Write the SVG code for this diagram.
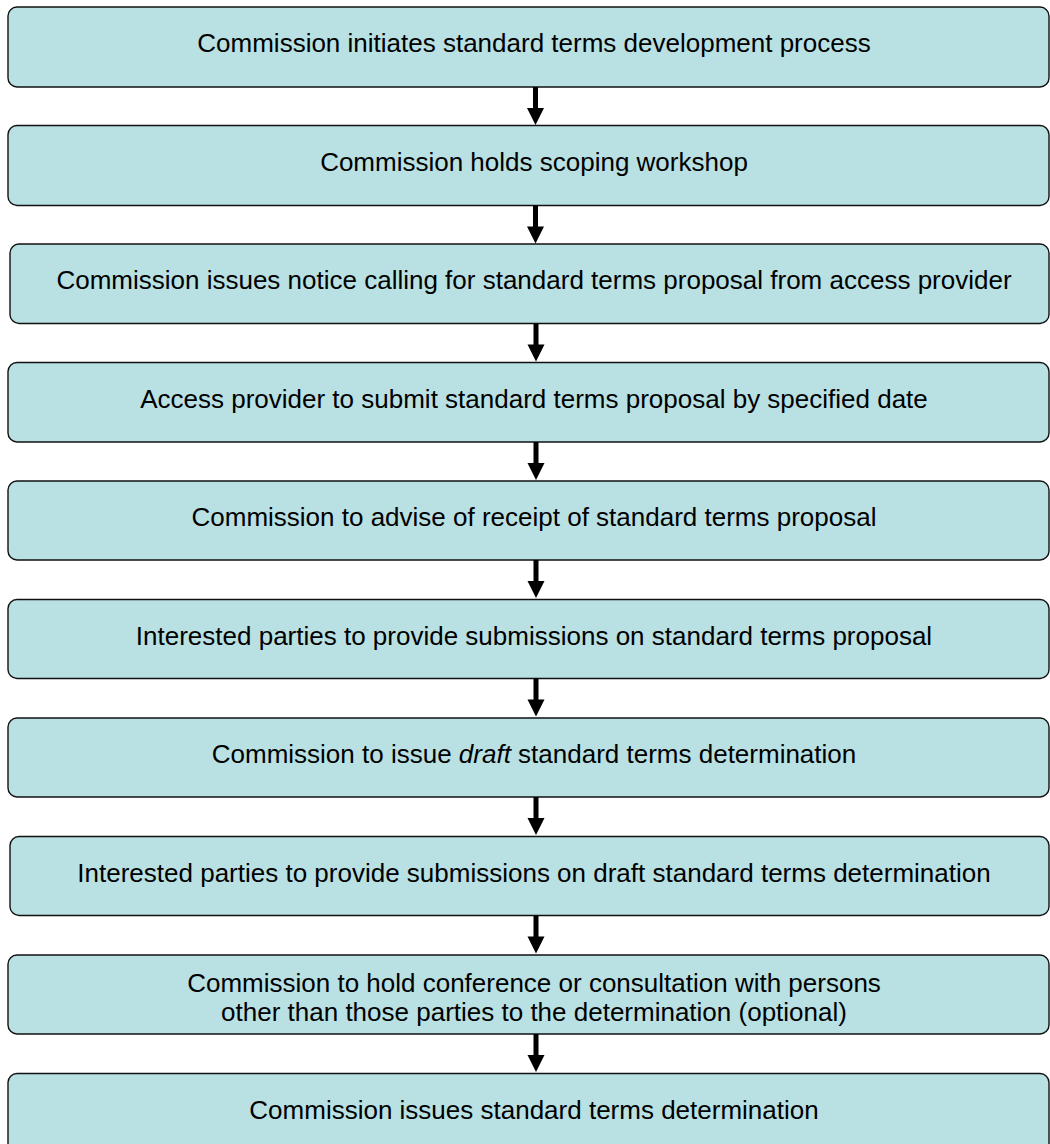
<svg xmlns="http://www.w3.org/2000/svg" width="1050" height="1144" viewBox="0 0 1050 1144">
<defs>
<style>
.box{fill:#B9E0E3;stroke:#111;stroke-width:1.4}
.t{font-family:"Liberation Sans",Arial,sans-serif;font-size:26px;fill:#000;text-anchor:middle}
.shaft{stroke:#000;stroke-width:5;fill:none}
.head{fill:#000}
</style>
<g id="arrow">
<line class="shaft" x1="0" y1="0" x2="0" y2="22"/>
<polygon class="head" points="-8.5,21 8.5,21 0,38"/>
</g>
</defs>
<rect width="1050" height="1144" fill="#fff"/>
<g id="n1"><rect class="box" x="8" y="7" width="1041" height="80" rx="9"/><text class="t" x="534" y="52">Commission initiates standard terms development process</text></g>
<g id="n2"><rect class="box" x="8" y="125.5" width="1041" height="80" rx="9"/><text class="t" x="534" y="170.5">Commission holds scoping workshop</text></g>
<g id="n3"><rect class="box" x="10" y="244" width="1039" height="79.5" rx="9"/><text class="t" x="534" y="289">Commission issues notice calling for standard terms proposal from access provider</text></g>
<g id="n4"><rect class="box" x="8" y="362.5" width="1041" height="79.5" rx="9"/><text class="t" x="534" y="407.5">Access provider to submit standard terms proposal by specified date</text></g>
<g id="n5"><rect class="box" x="8" y="481" width="1041" height="79" rx="9"/><text class="t" x="534" y="526">Commission to advise of receipt of standard terms proposal</text></g>
<g id="n6"><rect class="box" x="8" y="599.5" width="1041" height="79" rx="9"/><text class="t" x="534" y="644.5">Interested parties to provide submissions on standard terms proposal</text></g>
<g id="n7"><rect class="box" x="8" y="718" width="1041" height="79" rx="9"/><text class="t" x="534" y="763">Commission to issue <tspan font-style="italic">draft</tspan> standard terms determination</text></g>
<g id="n8"><rect class="box" x="10" y="836.5" width="1039" height="79" rx="9"/><text class="t" x="534" y="881.5">Interested parties to provide submissions on draft standard terms determination</text></g>
<g id="n9"><rect class="box" x="8" y="955" width="1041" height="79" rx="9"/><text class="t" x="534" y="992">Commission to hold conference or consultation with persons</text><text class="t" x="534" y="1021">other than those parties to the determination (optional)</text></g>
<g id="n10"><rect class="box" x="8" y="1073.5" width="1041" height="100" rx="9"/><text class="t" x="534" y="1118.5">Commission issues standard terms determination</text></g>
<g id="connectors">
<use href="#arrow" x="535.5" y="87"/>
<use href="#arrow" x="535.5" y="205.5"/>
<use href="#arrow" x="536" y="323.5"/>
<use href="#arrow" x="536" y="442"/>
<use href="#arrow" x="536" y="560"/>
<use href="#arrow" x="536" y="678.5"/>
<use href="#arrow" x="536" y="797"/>
<use href="#arrow" x="536" y="915.5"/>
<use href="#arrow" x="536" y="1034"/>
</g>
</svg>
